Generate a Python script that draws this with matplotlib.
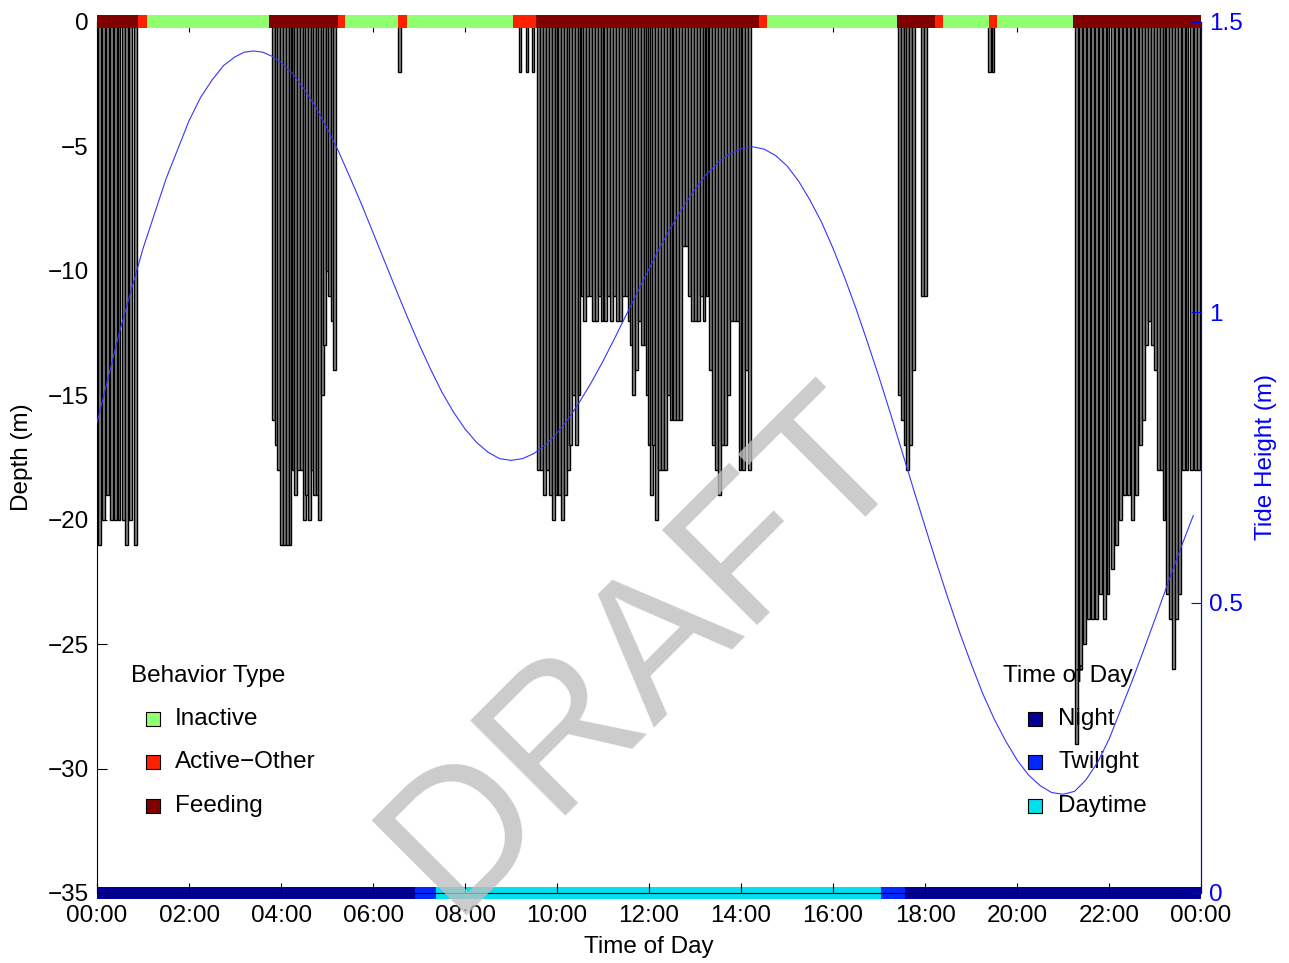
"""Dive depth profile over one day with behaviour and tide overlay."""

import matplotlib
matplotlib.use('Agg')
import matplotlib.pyplot as plt
import numpy as np

plt.rcParams['font.family'] = ['Liberation Sans', 'DejaVu Sans']
plt.rcParams['font.size'] = 17.5

# dive start (minutes after midnight) and max depth (m)
dive_start_min = [
    # 00:00 - 01:00
    1, 7, 12, 17, 22, 27, 33, 37, 42, 48,
    # 03:45 - 05:10
    228, 232, 235, 239, 243, 247, 250, 254, 257, 261, 265, 269, 271, 275,
    279, 282, 286, 288, 292, 295, 299, 301, 305, 308,
    # short dips
    393, 550, 559, 567,
    # 09:30 - 14:10
    574, 578, 582, 586, 590, 594, 597, 601, 605, 609,
    613, 616, 620, 624, 627, 631, 634, 638, 642, 646,
    650, 654, 657, 661, 665, 669, 673, 677, 681, 685,
    689, 693, 695, 698, 702, 706, 710, 714, 716, 719,
    721, 724, 728, 732, 736, 740, 744, 747, 751, 755,
    759, 763, 767, 771, 775, 779, 783, 787, 790, 794,
    798, 802, 806, 810, 814, 818, 822, 826, 830, 834,
    837, 841, 845, 849,
    # 17:25 - 18:00
    1045, 1049, 1053, 1055, 1059, 1063, 1075, 1079,
    1162, 1167,
    # 21:15 - 24:00
    1276, 1281, 1286, 1291, 1297, 1302, 1307, 1312, 1317, 1323,
    1328, 1333, 1338, 1344, 1349, 1354, 1359, 1363, 1367, 1371,
    1375, 1379, 1383, 1387, 1390, 1394, 1398, 1402, 1406, 1410,
    1415, 1420, 1426, 1431, 1435,
]
dive_depth = [
    -21, -20, -19, -20, -20, -20, -20, -21, -20, -21,
    -16, -17, -18, -21, -21, -21, -21, -18, -19, -18, -18, -20, -19, -20,
    -18, -19, -19, -20, -15, -13, -10, -11, -12, -14,
    -2, -2, -2, -2,
    -18, -18, -19, -18, -19, -20, -19, -19, -20, -19,
    -18, -17, -15, -17, -15, -11, -12, -11, -11, -12,
    -12, -11, -12, -12, -11, -12, -11, -12, -12, -11,
    -11, -12, -13, -15, -14, -12, -13, -13, -15, -17,
    -19, -17, -20, -18, -18, -18, -15, -16, -16, -16,
    -16, -9, -9, -11, -12, -12, -12, -11, -12, -11,
    -14, -17, -18, -19, -17, -17, -15, -12, -12, -12,
    -18, -18, -14, -18,
    -15, -16, -17, -18, -17, -14, -11, -11,
    -2, -2,
    -29, -26, -25, -24, -24, -24, -23, -24, -23, -22,
    -21, -20, -19, -19, -20, -19, -17, -16, -13, -12,
    -13, -14, -18, -18, -20, -23, -24, -26, -24, -23,
    -18, -18, -18, -18, -18,
]
dive_len_min = 3.5

tide_hour = [0, 0.25, 0.5, 0.75, 1.0, 1.25, 1.5, 1.75, 2.0, 2.25, 2.5, 2.75,
             3.0, 3.2, 3.4, 3.6, 3.8, 4.0, 4.25, 4.5, 4.75, 5.0, 5.25, 5.5,
             5.75, 6.0, 6.25, 6.5, 6.75, 7.0, 7.25, 7.5, 7.75, 8.0, 8.25, 8.5,
             8.75, 9.0, 9.25, 9.5, 9.75, 10.0, 10.25, 10.5, 10.75, 11.0, 11.25, 11.5,
             11.75, 12.0, 12.25, 12.5, 12.75, 13.0, 13.25, 13.5, 13.75, 14.0, 14.25, 14.5,
             14.75, 15.0, 15.25, 15.5, 15.75, 16.0, 16.25, 16.5, 16.75, 17.0, 17.25, 17.5,
             17.75, 18.0, 18.25, 18.5, 18.75, 19.0, 19.25, 19.5, 19.75, 20.0, 20.25, 20.5,
             20.75, 21.0, 21.25, 21.5, 21.75, 22.0, 22.25, 22.5, 22.75, 23.0, 23.25, 23.5,
             23.83]
tide_m = [0.81, 0.89, 0.97, 1.04, 1.11, 1.17, 1.23, 1.28, 1.33, 1.37, 1.40, 1.425,
          1.44, 1.448, 1.45, 1.448, 1.441, 1.43, 1.411, 1.385, 1.354, 1.317, 1.277, 1.232,
          1.186, 1.137, 1.088, 1.039, 0.991, 0.945, 0.902, 0.862, 0.828, 0.799, 0.776, 0.759,
          0.748, 0.745, 0.748, 0.757, 0.772, 0.792, 0.817, 0.847, 0.88, 0.916, 0.955, 0.995,
          1.035, 1.075, 1.114, 1.15, 1.183, 1.212, 1.238, 1.258, 1.273, 1.282, 1.285, 1.281,
          1.27, 1.252, 1.226, 1.193, 1.155, 1.11, 1.06, 1.006, 0.948, 0.888, 0.825, 0.76,
          0.695, 0.631, 0.568, 0.507, 0.449, 0.395, 0.344, 0.30, 0.262, 0.229, 0.203, 0.185,
          0.173, 0.17, 0.175, 0.195, 0.225, 0.265, 0.315, 0.365, 0.418, 0.472, 0.527, 0.582,
          0.65]

behav_start = [0.00, 0.89, 1.09, 3.74, 5.24, 5.39, 6.54, 6.74, 9.04,
               9.54, 14.39, 14.57, 17.39, 18.22, 18.39, 19.39, 19.57, 21.22]
behav_type = ['Feeding', 'Active-Other', 'Inactive', 'Feeding', 'Active-Other',
              'Inactive', 'Active-Other', 'Inactive', 'Active-Other', 'Feeding',
              'Active-Other', 'Inactive', 'Feeding', 'Active-Other', 'Inactive',
              'Active-Other', 'Inactive', 'Feeding']
behav_labels = ['Inactive', 'Active-Other', 'Feeding']
behav_colors = {'Inactive': '#90ff70', 'Active-Other': '#ff2000', 'Feeding': '#800000'}

tod_start = [0.0, 6.91, 7.37, 17.04, 17.57]
tod_type = ['Night', 'Twilight', 'Daytime', 'Twilight', 'Night']
tod_labels = ['Night', 'Twilight', 'Daytime']
tod_colors = {'Night': '#000099', 'Twilight': '#0028ff', 'Daytime': '#00e0f0'}

hour_ticks = list(range(0, 25, 2))
hour_labels = [f'{h % 24:02d}:00' for h in hour_ticks]
depth_ticks = list(range(-35, 1, 5))
tide_ticks = [0, 0.5, 1, 1.5]
tide_tick_labels = ['0', '0.5', '1', '1.5']


def draw_strip(ax, y, starts, kinds, colors, zorder):
    ends = starts[1:] + [24]
    ax.barh(y, np.subtract(ends, starts), left=starts, height=0.52,
            color=[colors[k] for k in kinds], clip_on=False, zorder=zorder)


def draw_key(ax, title, title_x, mark_x, text_x, ys, labels, colors):
    ax.text(title_x, ys[0], title, transform=ax.transAxes, ha='left', va='center')
    for yy, lab in zip(ys[1:], labels):
        ax.scatter([mark_x], [yy], s=88, marker='s', color=colors[lab],
                   edgecolors='black', linewidths=0.8, transform=ax.transAxes,
                   clip_on=False, zorder=6)
        ax.text(text_x, yy, lab.replace('-', '\u2212'), transform=ax.transAxes,
                ha='left', va='center')


fig = plt.figure(figsize=(12.89, 9.63), dpi=100)
ax = fig.add_axes([0.0753, 0.0727, 0.8565, 0.9045])

ax.bar(np.array(dive_start_min) / 60, dive_depth, width=dive_len_min / 60,
       align='edge', color='#8c8c8c', edgecolor='black', linewidth=1.0, zorder=2)

draw_strip(ax, 0, behav_start, behav_type, behav_colors, zorder=4)
draw_strip(ax, -35, tod_start, tod_type, tod_colors, zorder=1.5)

ax.set_xlim(0, 24)
ax.set_ylim(-35, 0)
ax.set_xticks(hour_ticks)
ax.set_xticklabels(hour_labels)
ax.set_yticks(depth_ticks)
ax.tick_params(direction='in', length=7, width=0.8, top=True, right=True, pad=6)
ax.tick_params(axis='x', pad=9)
ax.set_xlabel('Time of Day')
ax.set_ylabel('Depth (m)')
ax.xaxis.set_label_coords(0.5, -0.049)
ax.yaxis.set_label_coords(-0.058, 0.5)

draw_key(ax, 'Behavior Type', 0.0308, 0.0503, 0.0707,
         [0.2491, 0.1998, 0.1504, 0.0999], behav_labels, behav_colors)
draw_key(ax, 'Time of Day', 0.8207, 0.8496, 0.8705,
         [0.2491, 0.1998, 0.1504, 0.0999], tod_labels, tod_colors)

ax2 = ax.twinx()
ax2.plot(tide_hour, tide_m, color='#3535ff', linewidth=0.8)
ax2.set_ylim(0, 1.5)
ax2.set_yticks(tide_ticks)
ax2.set_yticklabels(tide_tick_labels)
ax2.tick_params(axis='y', direction='in', length=7, width=0.8, colors='blue', pad=6)
for side in ['top', 'bottom', 'left']:
    ax2.spines[side].set_visible(False)
ax2.spines['right'].set_color('blue')
ax2.set_ylabel('Tide Height (m)', color='blue')
ax2.yaxis.set_label_coords(1.049, 0.5)

fig.text(0.5, 0.325, 'DRAFT', rotation=45, fontsize=140, color='0.75', alpha=0.8,
         ha='center', va='center', rotation_mode='anchor')

fig.savefig('out.png', dpi=100)
